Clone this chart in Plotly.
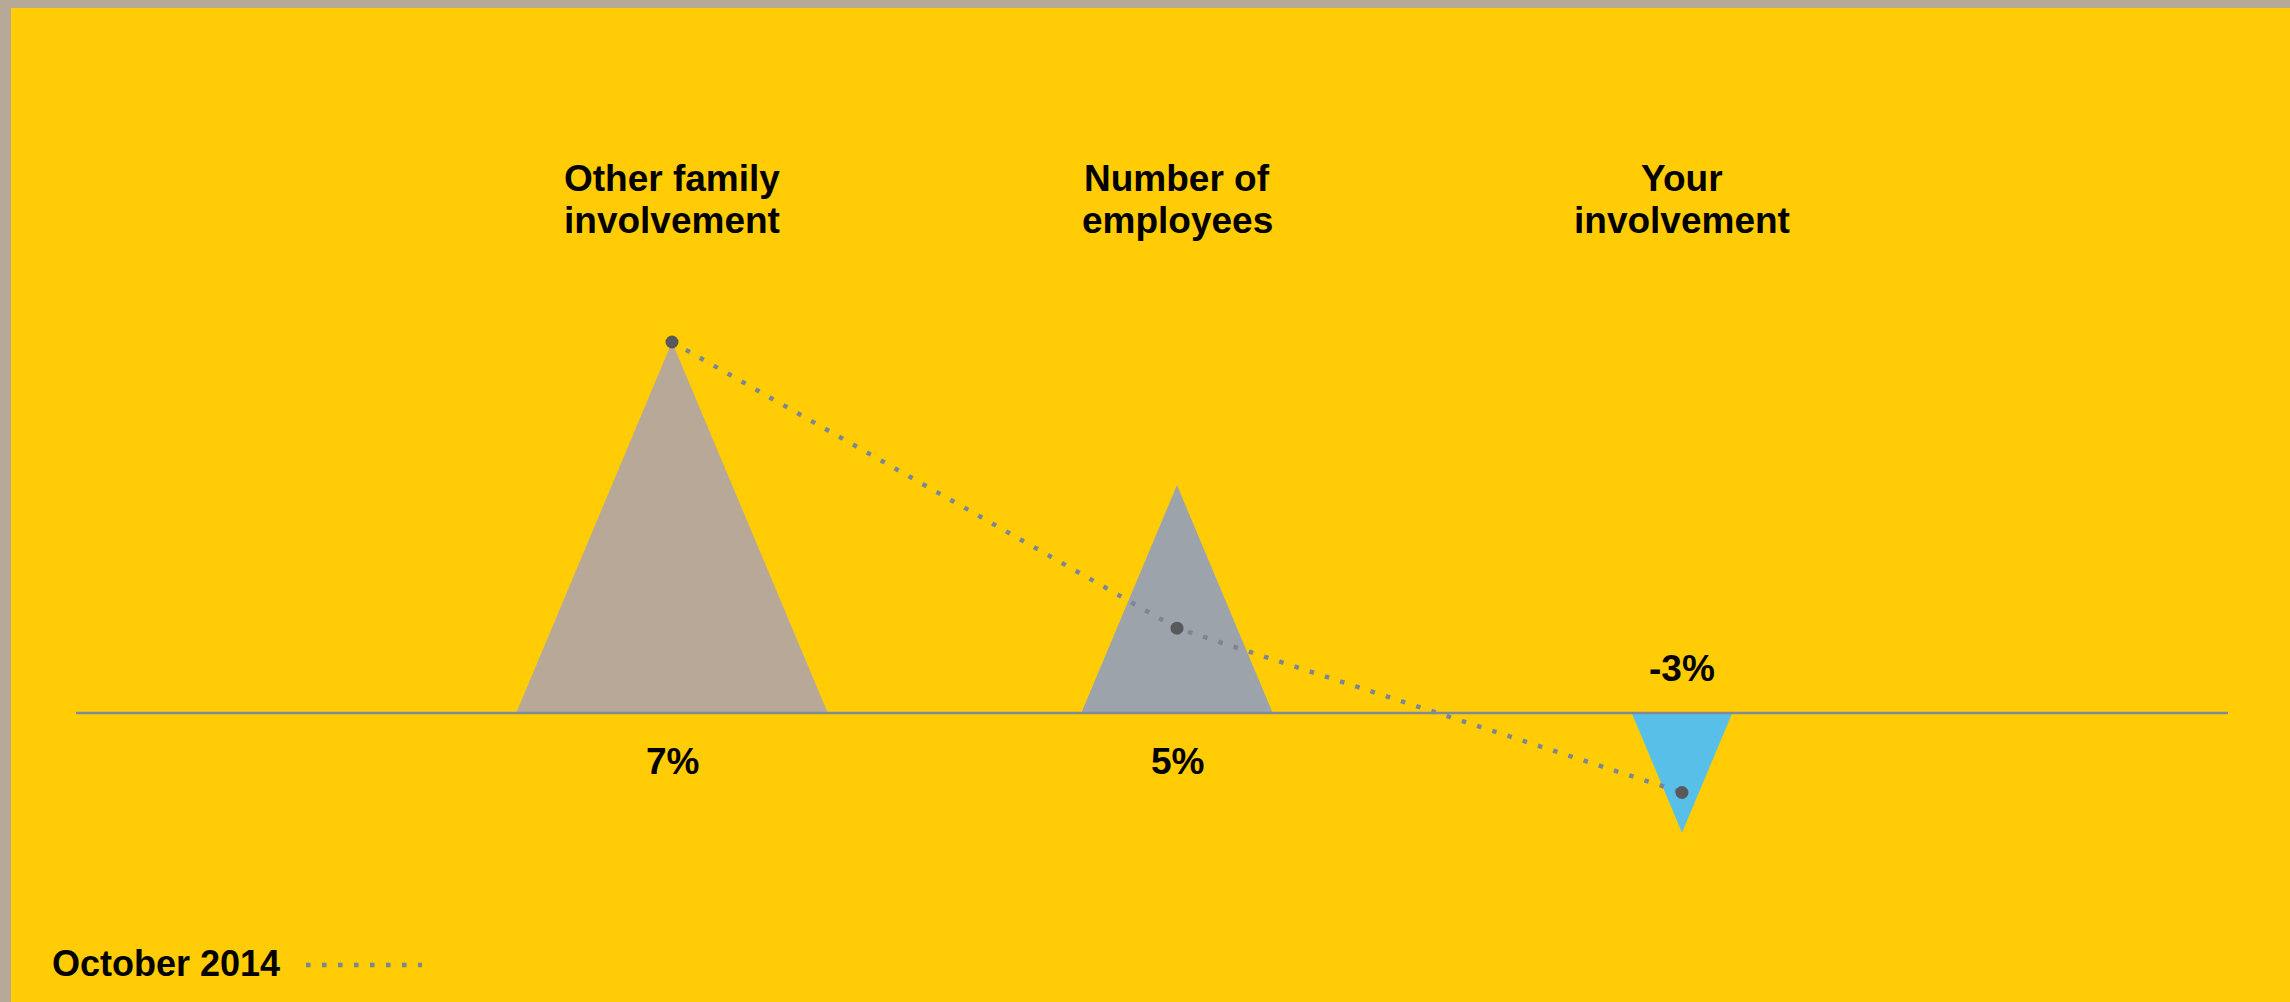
import plotly.graph_objects as go

# ---- data ----
categories = ["Other family<br>involvement", "Number of<br>employees", "Your<br>involvement"]
value_labels = ["7%", "5%", "-3%"]
peak_height = [7.0, 4.3, -2.26]      # triangle heights (chart units)
oct_2014 = [7.0, 1.6, -1.5]          # October 2014 markers (chart units)
legend_label = "October 2014"

# ---- styles ----
W, H = 2290, 1002
YELLOW = "#FFCC06"
BORDER = "#B8A898"
tri_colors = ["#B8A898", "#9CA3AB", "#58C0E8"]
DOT = "#7B8694"
MARK = "#58595B"
FONT = "Liberation Sans, Arial, Helvetica, sans-serif"

baseline_px = 713
px_per_y = 53.0
px_per_x = 505.0
x0_px = 672.0
yr = [-(H - baseline_px) / px_per_y, baseline_px / px_per_y]
xr = [-x0_px / px_per_x, (W - x0_px) / px_per_x]
aspect = 0.42  # half-width / height in pixels

fig = go.Figure()

xs = list(range(len(categories)))
for i, h in enumerate(peak_height):
    hw = aspect * abs(h) * px_per_y / px_per_x
    fig.add_trace(go.Scatter(
        x=[i - hw, i, i + hw, i - hw], y=[0, h, 0, 0],
        mode="lines", fill="toself", fillcolor=tri_colors[i],
        line=dict(width=0, color=tri_colors[i]), hoverinfo="skip", showlegend=False))

fig.add_trace(go.Scatter(
    x=xs, y=oct_2014, mode="lines",
    line=dict(color=DOT, width=4.5, dash="4.5px,11.5px"),
    hoverinfo="skip", showlegend=False))
fig.add_trace(go.Scatter(
    x=xs, y=oct_2014, mode="markers",
    marker=dict(color=MARK, size=13), showlegend=False, name=legend_label))

shapes = [
    dict(type="rect", xref="paper", yref="paper", x0=11 / W, x1=1, y0=0, y1=1 - 8 / H,
         fillcolor=YELLOW, line=dict(width=0), layer="below"),
    dict(type="line", xref="paper", yref="y", x0=76 / W, x1=2228 / W, y0=0, y1=0,
         line=dict(color="#808B97", width=2.5), layer="above"),
    dict(type="line", xref="paper", yref="paper", x0=306 / W, x1=422 / W,
         y0=1 - 965 / H, y1=1 - 965 / H,
         line=dict(color=DOT, width=4.5, dash="4.5px,11.5px")),
]

annotations = []
tfont = dict(family=FONT, size=37, color="#000000", weight="bold")
for i, cat in enumerate(categories):
    lines = cat.split("<br>")
    for j, ln in enumerate(lines):
        annotations.append(dict(
            x=i, xref="x", y=1 - (178 + 42 * j) / H, yref="paper",
            text=ln, showarrow=False, xanchor="center", yanchor="middle", font=tfont))
    h = peak_height[i]
    annotations.append(dict(
        x=i, xref="x", y=0, yref="y", text=value_labels[i], showarrow=False,
        xanchor="center", yanchor="middle", yshift=-48 if h >= 0 else 45, font=tfont))

annotations.append(dict(
    x=50 / W, xref="paper", y=1 - 963 / H, yref="paper", text=legend_label,
    showarrow=False, xanchor="left", yanchor="middle",
    font=dict(family=FONT, size=36, color="#000000", weight="bold")))

fig.update_layout(
    width=W, height=H, margin=dict(l=0, r=0, t=0, b=0),
    paper_bgcolor=BORDER, plot_bgcolor="rgba(0,0,0,0)",
    xaxis=dict(range=xr, visible=False, fixedrange=True),
    yaxis=dict(range=yr, visible=False, fixedrange=True),
    shapes=shapes, annotations=annotations, showlegend=False,
)

fig.write_html("out.html", config={"displayModeBar": False})

with open("out.html", "r", encoding="utf-8") as f:
    html = f.read()
html = html.replace("<head>", "<head><style>html,body{margin:0;padding:0;overflow:hidden}</style>", 1)
with open("out.html", "w", encoding="utf-8") as f:
    f.write(html)
